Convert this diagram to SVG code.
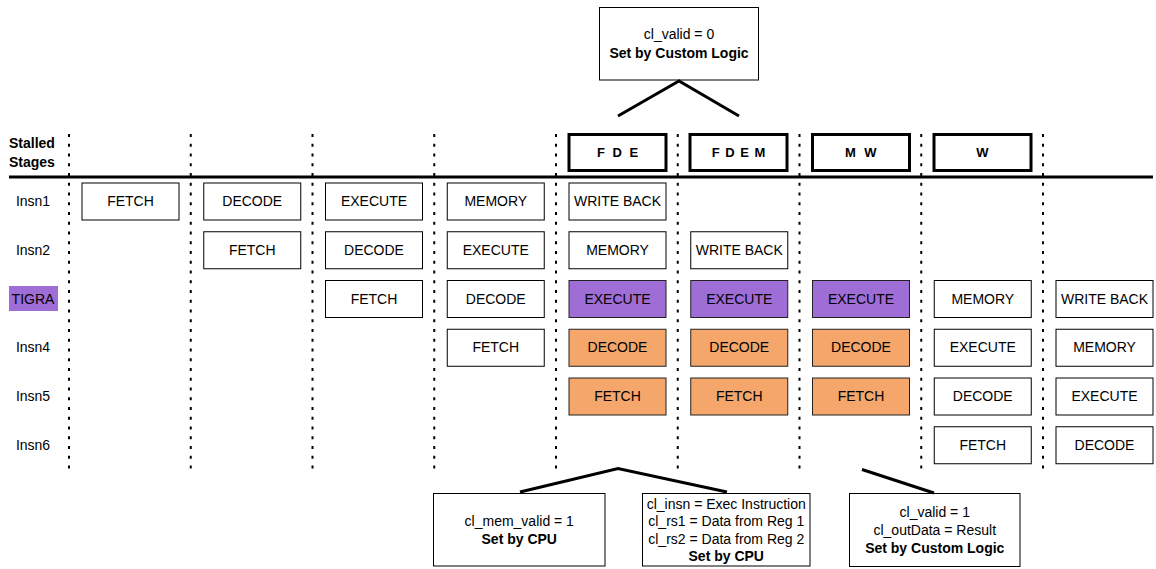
<svg xmlns="http://www.w3.org/2000/svg" width="1156" height="569" viewBox="0 0 1156 569">
  <style>
    text { font-family: "Liberation Sans", Arial, sans-serif; font-size: 14px; fill: #000; }
    .c { text-anchor: middle; }
    .b { font-weight: bold; }
    .hdr { font-size: 13px; font-weight: bold; text-anchor: middle; }
    .box { fill: #fff; stroke: #000; stroke-width: 1; }
    .hbox { fill: #fff; stroke: #000; stroke-width: 3; }
    .ex { fill: #9f6dd6; stroke: #222; stroke-width: 1; }
    .or { fill: #f4a66b; stroke: #222; stroke-width: 1; }
    .dot { stroke: #000; stroke-width: 2; stroke-dasharray: 3 6.75; fill: none; }
    .thick { stroke: #000; stroke-width: 3; fill: none; }
  </style>

  <rect width="1156" height="569" fill="#fff"/>

  <!-- stage separators -->
  <g id="separators">
    <line class="dot" x1="69" y1="134" x2="69" y2="470"/>
    <line class="dot" x1="190.75" y1="134" x2="190.75" y2="470"/>
    <line class="dot" x1="312.5" y1="134" x2="312.5" y2="470"/>
    <line class="dot" x1="434.25" y1="134" x2="434.25" y2="470"/>
    <line class="dot" x1="556" y1="134" x2="556" y2="470"/>
    <line class="dot" x1="677.75" y1="134" x2="677.75" y2="470"/>
    <line class="dot" x1="799.5" y1="134" x2="799.5" y2="470"/>
    <line class="dot" x1="921.25" y1="134" x2="921.25" y2="470"/>
    <line class="dot" x1="1043" y1="134" x2="1043" y2="470"/>
  </g>

  <!-- header rule -->
  <line class="thick" x1="9" y1="177" x2="1153" y2="177"/>

  <!-- row labels -->
  <g id="labels">
    <text class="b" x="9" y="148">Stalled</text>
    <text class="b" x="9" y="167">Stages</text>
    <text class="c" x="33" y="206">Insn1</text>
    <text class="c" x="33" y="254.5">Insn2</text>
    <rect x="9" y="286" width="49" height="25" fill="#9f6dd6"/>
    <text class="c" x="33" y="303.5">TIGRA</text>
    <text class="c" x="33" y="352">Insn4</text>
    <text class="c" x="33" y="401">Insn5</text>
    <text class="c" x="33" y="449.5">Insn6</text>
  </g>

  <!-- stalled stage headers -->
  <g id="hdr-fde">
    <rect class="hbox" x="569" y="134.5" width="97" height="36"/>
    <text class="hdr" x="618.5" y="157" letter-spacing="2">F D E</text>
  </g>
  <g id="hdr-fdem">
    <rect class="hbox" x="690" y="134.5" width="97" height="36"/>
    <text class="hdr" x="739" y="157" letter-spacing="1">F D E M</text>
  </g>
  <g id="hdr-mw">
    <rect class="hbox" x="812.5" y="134.5" width="97" height="36"/>
    <text class="hdr" x="862" y="157" letter-spacing="2.5">M W</text>
  </g>
  <g id="hdr-w">
    <rect class="hbox" x="934" y="134.5" width="97" height="36"/>
    <text class="hdr" x="982.5" y="157">W</text>
  </g>

  <!-- Insn1 -->
  <g id="i1-f"><rect class="box" x="82" y="183" width="97" height="37"/><text class="c" x="130.5" y="206">FETCH</text></g>
  <g id="i1-d"><rect class="box" x="203.75" y="183" width="97" height="37"/><text class="c" x="252.25" y="206">DECODE</text></g>
  <g id="i1-e"><rect class="box" x="325.5" y="183" width="97" height="37"/><text class="c" x="374" y="206">EXECUTE</text></g>
  <g id="i1-m"><rect class="box" x="447.25" y="183" width="97" height="37"/><text class="c" x="495.75" y="206">MEMORY</text></g>
  <g id="i1-w"><rect class="box" x="569" y="183" width="97" height="37"/><text class="c" x="617.5" y="206">WRITE BACK</text></g>

  <!-- Insn2 -->
  <g id="i2-f"><rect class="box" x="203.75" y="231.75" width="97" height="37"/><text class="c" x="252.25" y="254.75">FETCH</text></g>
  <g id="i2-d"><rect class="box" x="325.5" y="231.75" width="97" height="37"/><text class="c" x="374" y="254.75">DECODE</text></g>
  <g id="i2-e"><rect class="box" x="447.25" y="231.75" width="97" height="37"/><text class="c" x="495.75" y="254.75">EXECUTE</text></g>
  <g id="i2-m"><rect class="box" x="569" y="231.75" width="97" height="37"/><text class="c" x="617.5" y="254.75">MEMORY</text></g>
  <g id="i2-w"><rect class="box" x="690.75" y="231.75" width="97" height="37"/><text class="c" x="739.25" y="254.75">WRITE BACK</text></g>

  <!-- TIGRA -->
  <g id="t-f"><rect class="box" x="325.5" y="280.5" width="97" height="37"/><text class="c" x="374" y="303.5">FETCH</text></g>
  <g id="t-d"><rect class="box" x="447.25" y="280.5" width="97" height="37"/><text class="c" x="495.75" y="303.5">DECODE</text></g>
  <g id="t-e1"><rect class="ex" x="569" y="280.5" width="97" height="37"/><text class="c" x="617.5" y="303.5">EXECUTE</text></g>
  <g id="t-e2"><rect class="ex" x="690.75" y="280.5" width="97" height="37"/><text class="c" x="739.25" y="303.5">EXECUTE</text></g>
  <g id="t-e3"><rect class="ex" x="812.5" y="280.5" width="97" height="37"/><text class="c" x="861" y="303.5">EXECUTE</text></g>
  <g id="t-m"><rect class="box" x="934.25" y="280.5" width="97" height="37"/><text class="c" x="982.75" y="303.5">MEMORY</text></g>
  <g id="t-w"><rect class="box" x="1056" y="280.5" width="97" height="37"/><text class="c" x="1104.5" y="303.5">WRITE BACK</text></g>

  <!-- Insn4 -->
  <g id="i4-f"><rect class="box" x="447.25" y="329.25" width="97" height="37"/><text class="c" x="495.75" y="352.25">FETCH</text></g>
  <g id="i4-d1"><rect class="or" x="569" y="329.25" width="97" height="37"/><text class="c" x="617.5" y="352.25">DECODE</text></g>
  <g id="i4-d2"><rect class="or" x="690.75" y="329.25" width="97" height="37"/><text class="c" x="739.25" y="352.25">DECODE</text></g>
  <g id="i4-d3"><rect class="or" x="812.5" y="329.25" width="97" height="37"/><text class="c" x="861" y="352.25">DECODE</text></g>
  <g id="i4-e"><rect class="box" x="934.25" y="329.25" width="97" height="37"/><text class="c" x="982.75" y="352.25">EXECUTE</text></g>
  <g id="i4-m"><rect class="box" x="1056" y="329.25" width="97" height="37"/><text class="c" x="1104.5" y="352.25">MEMORY</text></g>

  <!-- Insn5 -->
  <g id="i5-f1"><rect class="or" x="569" y="378" width="97" height="37"/><text class="c" x="617.5" y="401">FETCH</text></g>
  <g id="i5-f2"><rect class="or" x="690.75" y="378" width="97" height="37"/><text class="c" x="739.25" y="401">FETCH</text></g>
  <g id="i5-f3"><rect class="or" x="812.5" y="378" width="97" height="37"/><text class="c" x="861" y="401">FETCH</text></g>
  <g id="i5-d"><rect class="box" x="934.25" y="378" width="97" height="37"/><text class="c" x="982.75" y="401">DECODE</text></g>
  <g id="i5-e"><rect class="box" x="1056" y="378" width="97" height="37"/><text class="c" x="1104.5" y="401">EXECUTE</text></g>

  <!-- Insn6 -->
  <g id="i6-f"><rect class="box" x="934.25" y="426.75" width="97" height="37"/><text class="c" x="982.75" y="449.75">FETCH</text></g>
  <g id="i6-d"><rect class="box" x="1056" y="426.75" width="97" height="37"/><text class="c" x="1104.5" y="449.75">DECODE</text></g>

  <!-- annotation notes -->
  <g id="note-top">
    <rect class="box" x="599.5" y="7.5" width="159" height="72.5"/>
    <text class="c" x="679" y="39">cl_valid = 0</text>
    <text class="c b" x="679" y="58">Set by Custom Logic</text>
  </g>
  <g id="note-mem">
    <rect class="box" x="433.5" y="493.5" width="171.5" height="72.5"/>
    <text class="c" x="519.25" y="526">cl_mem_valid = 1</text>
    <text class="c b" x="519.25" y="544">Set by CPU</text>
  </g>
  <g id="note-insn">
    <rect class="box" x="642.5" y="493.5" width="167.5" height="72.5"/>
    <text class="c" x="726.25" y="508.5">cl_insn = Exec Instruction</text>
    <text class="c" x="726.25" y="526">cl_rs1 = Data from Reg 1</text>
    <text class="c" x="726.25" y="543.5">cl_rs2 = Data from Reg 2</text>
    <text class="c b" x="726.25" y="561">Set by CPU</text>
  </g>
  <g id="note-result">
    <rect class="box" x="849.5" y="493.5" width="170.5" height="73"/>
    <text class="c" x="934.75" y="517">cl_valid = 1</text>
    <text class="c" x="934.75" y="535">cl_outData = Result</text>
    <text class="c b" x="934.75" y="553">Set by Custom Logic</text>
  </g>

  <!-- connectors -->
  <g id="connectors">
    <polyline class="thick" points="618,116 679,81 739,116"/>
    <polyline class="thick" points="520,492 618,468.5 727,492"/>
    <line class="thick" x1="862" y1="469.5" x2="934" y2="493"/>
  </g>
</svg>
